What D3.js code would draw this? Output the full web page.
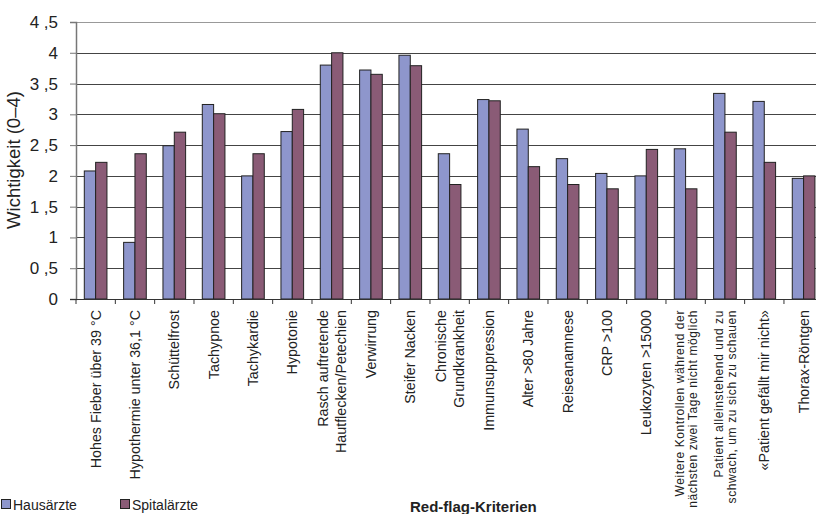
<!DOCTYPE html>
<html>
<head>
<meta charset="utf-8">
<script src="https://cdn.jsdelivr.net/npm/d3@7/dist/d3.min.js"></script>
<style>
  body { margin: 0; background: #fff; }
  svg { display: block; font-family: "Liberation Sans", Arial, sans-serif; }
</style>
</head>
<body>
<script>
// Red-flag criteria, one entry per category (multi-line labels split by "|")
var categories = [
  "Hohes Fieber über 39 °C",
  "Hypothermie unter 36,1 °C",
  "Schüttelfrost",
  "Tachypnoe",
  "Tachykardie",
  "Hypotonie",
  "Rasch auftretende|Hautflecken/Petechien",
  "Verwirrung",
  "Steifer Nacken",
  "Chronische|Grundkrankheit",
  "Immunsuppression",
  "Alter >80 Jahre",
  "Reiseanamnese",
  "CRP >100",
  "Leukozyten >15000",
  "Weitere Kontrollen während der|nächsten zwei Tage nicht möglich",
  "Patient alleinstehend und zu|schwach, um zu sich zu schauen",
  "«Patient gefällt mir nicht»",
  "Thorax-Röntgen"
];
var hausaerzte = [2.08, 0.92, 2.49, 3.16, 2.0, 2.72, 3.80, 3.72, 3.96, 2.36,
                  3.24, 2.76, 2.28, 2.04, 2.0, 2.44, 3.34, 3.21, 1.96];
var spitalaerzte = [2.22, 2.36, 2.71, 3.01, 2.36, 3.08, 4.0, 3.65, 3.79, 1.86,
                    3.22, 2.15, 1.86, 1.79, 2.43, 1.79, 2.71, 2.22, 2.0];
var yTicks = [0, 0.5, 1, 1.5, 2, 2.5, 3, 3.5, 4, 4.5];
var seriesNames = ["Hausärzte", "Spitalärzte"];
var seriesColors = ["#8e96cc", "#8a5b76"];

var W = 816, H = 514;
var margin = { top: 22, left: 76 };
var plotH = 277;
var plotW = 747.3; // runs slightly past the right edge, like the original

var svg = d3.select("body").append("svg")
    .attr("width", W)
    .attr("height", H);

var x = d3.scaleBand()
    .domain(d3.range(categories.length))
    .range([margin.left, margin.left + plotW]);
var y = d3.scaleLinear()
    .domain([0, 4.5])
    .range([margin.top + plotH, margin.top]);

var bw = x.bandwidth();
var barW = bw * 0.288;
var barOff = bw * 0.211;

// horizontal gridlines
svg.append("g").selectAll("line")
    .data(yTicks.filter(function (d) { return d > 0; }))
    .enter().append("line")
    .attr("x1", margin.left)
    .attr("x2", W)
    .attr("y1", function (d) { return Math.round(y(d)) + 0.5; })
    .attr("y2", function (d) { return Math.round(y(d)) + 0.5; })
    .attr("stroke", function (d) { return d === 4.5 ? "#999" : "#444"; })
    .attr("stroke-width", 1);

// bars
var series = [hausaerzte, spitalaerzte];
series.forEach(function (vals, s) {
    svg.append("g").selectAll("rect")
        .data(vals)
        .enter().append("rect")
        .attr("x", function (d, i) { return x(i) + barOff + s * barW; })
        .attr("y", function (d) { return y(d); })
        .attr("width", barW)
        .attr("height", function (d) { return y(0) - y(d); })
        .attr("fill", seriesColors[s])
        .attr("stroke", "#222")
        .attr("stroke-width", 1);
});

// y axis
var yAxis = d3.axisLeft(y)
    .tickValues(yTicks)
    .tickSize(6)
    .tickFormat(function (d) { return String(d).replace(".", " ,"); });
var gy = svg.append("g")
    .attr("transform", "translate(" + margin.left + ",0)")
    .call(yAxis);
gy.select(".domain").attr("stroke", "#777").attr("stroke-width", 1.5);
gy.selectAll(".tick line").attr("stroke", "#777");
gy.selectAll(".tick text")
    .attr("x", -18)
    .attr("fill", "#222")
    .style("font-size", "17px")
    .style("font-family", "Liberation Sans, Arial, sans-serif");

// x axis line + category ticks
svg.append("line")
    .attr("x1", margin.left - 6).attr("x2", W)
    .attr("y1", y(0) + 0.5).attr("y2", y(0) + 0.5)
    .attr("stroke", "#333").attr("stroke-width", 1.2);
svg.append("g").selectAll("line")
    .data(d3.range(categories.length + 1))
    .enter().append("line")
    .attr("x1", function (i) { return margin.left + i * bw; })
    .attr("x2", function (i) { return margin.left + i * bw; })
    .attr("y1", y(0))
    .attr("y2", y(0) + 5)
    .attr("stroke", "#333");

// category labels, rotated; the two longest ones are set smaller
function isSmall(d) { return d.length > 45; }
var labels = svg.append("g").selectAll("text")
    .data(categories)
    .enter().append("text")
    .attr("text-anchor", "end")
    .attr("fill", "#222")
    .attr("transform", function (d, i) {
        return "translate(" + (x(i) + bw / 2) + "," + (y(0) + 11) + ") rotate(-90)";
    })
    .style("font-size", function (d) { return isSmall(d) ? "12px" : "14.3px"; })
    .style("letter-spacing", function (d) { return isSmall(d) ? "0.6px" : null; });
labels.each(function (d) {
    var lines = d.split("|");
    var lh = isSmall(d) ? 13 : 18;
    var t = d3.select(this);
    lines.forEach(function (ln, k) {
        var off = (k - (lines.length - 1) / 2) * lh;
        t.append("tspan")
            .attr("x", 0)
            .attr("y", off + 5)
            .text(ln);
    });
});

// y axis title
svg.append("text")
    .attr("transform", "translate(20,160) rotate(-90)")
    .attr("text-anchor", "middle")
    .attr("fill", "#222")
    .style("font-size", "18.5px")
    .text("Wichtigkeit (0–4)");

// x axis title
svg.append("text")
    .attr("x", 410)
    .attr("y", 512)
    .attr("fill", "#222")
    .style("font-size", "15px")
    .style("font-weight", "bold")
    .text("Red-flag-Kriterien");

// legend
var legX = [1, 120];
seriesNames.forEach(function (name, s) {
    svg.append("rect")
        .attr("x", legX[s] + 0.5).attr("y", 499.5)
        .attr("width", 9).attr("height", 9)
        .attr("fill", seriesColors[s])
        .attr("stroke", "#222");
    svg.append("text")
        .attr("x", legX[s] + 12)
        .attr("y", 510)
        .attr("fill", "#222")
        .style("font-size", "14px")
        .text(name);
});
</script>
</body>
</html>
